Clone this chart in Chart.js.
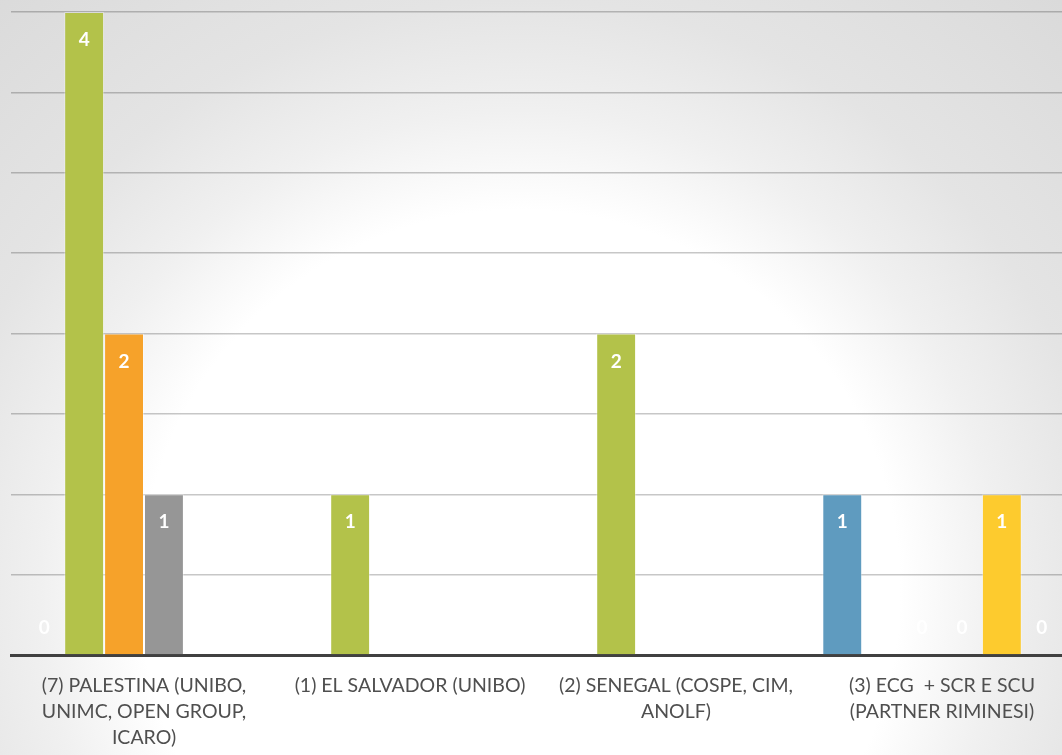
<!DOCTYPE html>
<html>
<head>
<meta charset="utf-8">
<script src="https://cdn.jsdelivr.net/npm/chart.js@4.4.1/dist/chart.umd.min.js"></script>
<style>
  html, body { margin: 0; padding: 0; overflow: hidden; }
  body {
    width: 1062px; height: 755px;
    background: radial-gradient(circle at 520px 590px, #ffffff 380px, #f0f0f0 480px, #e4e4e4 590px, #dadada 800px);
  }
  #wrap { position: absolute; left: 0; top: 0; width: 1080px; height: 755px; }
</style>
</head>
<body>
<div id="wrap"><canvas id="projChart"></canvas></div>
<script>
var categories = [
  ["(7) PALESTINA (UNIBO,", "UNIMC, OPEN GROUP,", "ICARO)"],
  ["(1) EL SALVADOR (UNIBO)"],
  ["(2) SENEGAL (COSPE, CIM,", "ANOLF)"],
  ["(3) ECG  + SCR E SCU", "(PARTNER RIMINESI)"]
];
var serie1 = [0, 0, 0, 1];
var serie2 = [4, 1, 2, 0];
var serie3 = [2, 0, 0, 0];
var serie4 = [1, 0, 0, 0];
var serie5 = [0, 0, 0, 1];
var serie6 = [0, 0, 0, 0];

var colori = ['#5f9bbf', '#b3c24a', '#f6a22a', '#969696', '#fdcb2e', '#c0504d'];

// etichette bianche dentro le barre
var etichette = {
  id: 'etichette',
  afterDatasetsDraw: function(chart) {
    var ctx = chart.ctx;
    ctx.save();
    ctx.fillStyle = '#ffffff';
    ctx.font = 'bold 19px Lato';
    ctx.textAlign = 'center';
    ctx.textBaseline = 'middle';
    chart.data.datasets.forEach(function(ds, i) {
      chart.getDatasetMeta(i).data.forEach(function(bar, j) {
        var v = ds.data[j];
        var y = v > 0 ? bar.y + 28 : bar.base - 27;
        ctx.fillText(v, bar.x, y);
      });
    });
    ctx.restore();
  }
};

var data = [serie1, serie2, serie3, serie4, serie5, serie6];
var ctx = document.getElementById("projChart").getContext('2d');
var myChart = new Chart(ctx, {
  type: 'bar',
  data: {
    labels: categories,
    datasets: data.map(function(d, i) {
      return {
        label: 'Serie ' + (i + 1),
        data: d,
        backgroundColor: colori[i],
        borderColor: 'rgba(255,255,255,0.35)',
        borderWidth: 1,
        categoryPercentage: 0.9,
        barPercentage: 1.0
      };
    })
  },
  options: {
    responsive: true,
    maintainAspectRatio: false,
    animation: false,
    layout: { padding: { left: 11, top: 12, right: 5 } },
    plugins: { legend: { display: false }, tooltip: { enabled: false } },
    scales: {
      x: {
        z: 1,
        grid: { display: false },
        border: { color: '#404040', width: 3 },
        ticks: {
          color: '#4f4f4f',
          font: { family: 'Lato', size: 19.5, lineHeight: 1.33 },
          padding: 10,
          autoSkip: false,
          maxRotation: 0
        },
        afterFit: function(scale) { scale.height = 100; }
      },
      y: {
        min: 0, max: 4,
        ticks: { display: false, stepSize: 0.5 },
        grid: { color: 'rgba(0,0,0,0.22)', lineWidth: 1.5, drawTicks: false },
        border: { display: false }
      }
    }
  },
  plugins: [etichette]
});
</script>
</body>
</html>
